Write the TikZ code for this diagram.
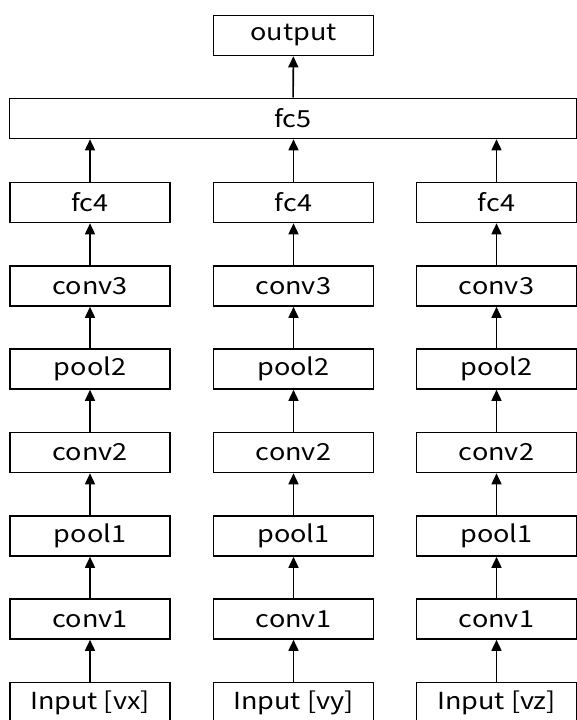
\documentclass[tikz,border=0pt]{standalone}
\usepackage{fontspec}
\setmainfont[FakeStretch=1.15]{Noto Sans CJK JP}
\usetikzlibrary{arrows.meta}
\tikzset{
  layer/.style={draw, line width=1.6pt, minimum width=160pt, minimum height=40pt,
    inner sep=0pt, font=\fontsize{23.5}{26}\selectfont},
  flow/.style={line width=1.6pt, -{Triangle[length=11pt,width=10pt]}}
}
\begin{document}
\begin{tikzpicture}[x=1pt,y=-1pt]
  \useasboundingbox (0,0) rectangle (577,720);
  % top of the network
  \node[layer] (out) at (293.5,35.5) {output};
  \node[layer, minimum width=567pt] (fcfive) at (293,118.5) {fc5};
  \draw[flow] (fcfive) -- (out);
  % three identical branches
  \foreach \c/\x/\v in {a/90/vx, b/293.5/vy, c/496.5/vz} {
    \node[layer] (\c in)   at (\x,702.5) {Input [\v]};
    \node[layer] (\c c1)   at (\x,619)   {conv1};
    \node[layer] (\c p1)   at (\x,536)   {pool1};
    \node[layer] (\c c2)   at (\x,452.5) {conv2};
    \node[layer] (\c p2)   at (\x,369)   {pool2};
    \node[layer] (\c c3)   at (\x,286)   {conv3};
    \node[layer] (\c f4)   at (\x,202.5) {fc4};
    \draw[flow] (\c in) -- (\c c1);
    \draw[flow] (\c c1) -- (\c p1);
    \draw[flow] (\c p1) -- (\c c2);
    \draw[flow] (\c c2) -- (\c p2);
    \draw[flow] (\c p2) -- (\c c3);
    \draw[flow] (\c c3) -- (\c f4);
    \draw[flow] (\c f4) -- (\c f4 |- fcfive.south);
  }
\end{tikzpicture}
\end{document}
